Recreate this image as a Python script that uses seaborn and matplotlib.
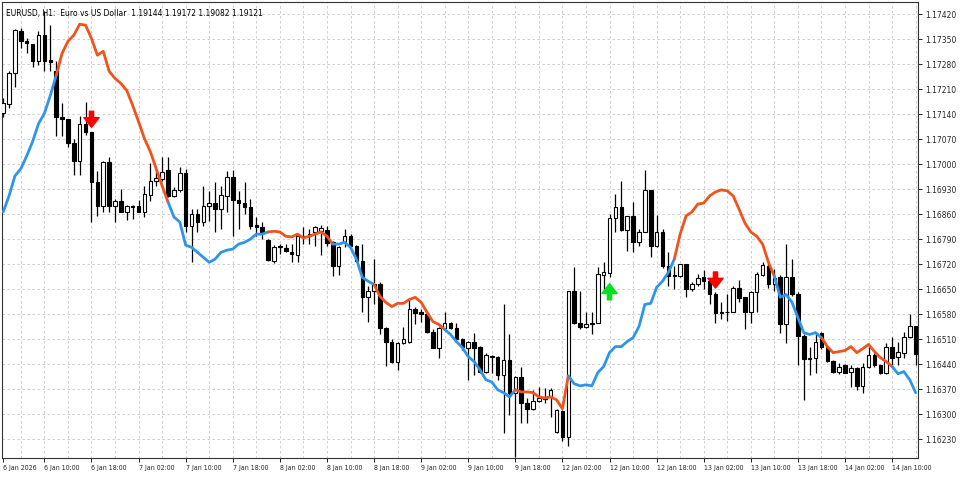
import numpy as np
import pandas as pd
import matplotlib
matplotlib.use("Agg")
import matplotlib.pyplot as plt
import seaborn as sns

# Prices in points (1e-5)
opens = [117142,117167,117254,117372,117344,117336,117288,117361,117291,117260,117133,117127,117060,117009,117111,117091,116950,116883,117006,116883,
116897,116866,116883,116883,116866,116914,116953,116959,116984,116911,116928,116976,116826,116860,116838,116883,116891,116874,116911,116964,
116900,116891,116880,116829,116824,116787,116728,116770,116765,116753,116745,116798,116798,116810,116812,116815,116781,116714,116781,116798,
116770,116728,116627,116644,116663,116542,116503,116447,116500,116503,116593,116585,116579,116531,116486,116542,116556,116542,116509,116486,
116503,116489,116419,116464,116461,116410,116452,116360,116404,116331,116315,116337,116343,116348,116250,116309,116236,116644,116556,116545,
116551,116556,116689,116694,116849,116880,116815,116855,116781,116810,116928,116770,116810,116714,116686,116686,116720,116649,116663,116683,
116672,116635,116582,116587,116585,116652,116627,116585,116641,116689,116714,116663,116683,116551,116683,116635,116520,116458,116458,116528,
116489,116449,116419,116438,116419,116430,116379,116433,116466,116438,116416,116489,116461,116472,116517,116548]
highs = [117184,117260,117378,117381,117352,117336,117372,117428,117389,117288,117170,117127,117071,117136,117175,117091,116981,117009,117021,116902,
116931,116886,116886,116900,116939,117004,116987,117021,117021,116936,116992,116987,116874,116874,116939,116925,116950,116939,116981,116984,
116925,116950,116902,116852,116838,116790,116773,116776,116776,116776,116804,116824,116818,116826,116829,116826,116784,116770,116818,116804,
116773,116776,116658,116734,116669,116545,116509,116503,116545,116621,116599,116593,116585,116537,116545,116585,116559,116556,116514,116506,
116528,116492,116472,116466,116464,116607,116523,116407,116433,116345,116368,116376,116374,116374,116315,116312,116646,116711,116644,116587,
116585,116711,116725,116860,116916,116953,116855,116894,116818,116984,116928,116857,116818,116753,116714,116720,116720,116669,116691,116703,
116672,116641,116613,116635,116658,116675,116627,116644,116697,116725,116720,116705,116689,116776,116734,116641,116523,116489,116531,116531,
116489,116452,116444,116441,116438,116433,116444,116489,116472,116441,116500,116517,116503,116531,116579,116548]
lows = [117133,117156,117217,117324,117310,117271,117277,117260,117260,117080,117080,117049,116970,116970,117082,116838,116855,116866,116866,116838,
116866,116843,116846,116866,116852,116897,116939,116953,116908,116908,116922,116810,116725,116810,116826,116841,116810,116818,116866,116798,
116818,116860,116818,116798,116790,116728,116722,116748,116753,116725,116725,116776,116776,116770,116745,116770,116686,116689,116767,116767,
116725,116585,116559,116607,116523,116435,116444,116424,116497,116500,116551,116559,116528,116486,116458,116537,116537,116503,116480,116396,
116410,116416,116416,116416,116396,116247,116298,116179,116275,116275,116312,116334,116331,116292,116247,116224,116210,116551,116537,116542,
116523,116556,116649,116683,116810,116812,116756,116753,116770,116810,116739,116767,116708,116658,116649,116683,116627,116644,116658,116649,
116607,116556,116565,116562,116585,116615,116537,116556,116585,116686,116652,116644,116528,116500,116630,116438,116340,116410,116416,116483,
116447,116416,116413,116416,116376,116368,116360,116430,116433,116413,116413,116433,116438,116458,116514,116438]
closes = [117170,117254,117375,117344,117338,117288,117361,117288,117285,117133,117127,117060,117009,117111,117091,116950,116883,117006,116883,116897,
116866,116883,116880,116866,116916,116953,116961,116978,116911,116928,116976,116826,116860,116838,116883,116891,116874,116914,116964,116900,
116891,116880,116826,116824,116810,116731,116767,116767,116756,116748,116798,116796,116804,116824,116821,116779,116714,116767,116798,116770,
116728,116627,116644,116663,116542,116503,116447,116500,116509,116593,116582,116579,116531,116486,116542,116556,116542,116509,116489,116503,
116486,116419,116466,116461,116410,116452,116360,116404,116331,116315,116337,116345,116348,116368,116312,116236,116644,116556,116545,116551,
116556,116691,116697,116849,116880,116815,116855,116781,116810,116928,116770,116810,116714,116686,116689,116720,116649,116663,116680,116672,
116635,116582,116587,116585,116652,116624,116585,116641,116691,116717,116663,116680,116551,116683,116635,116520,116455,116455,116503,116489,
116449,116419,116433,116416,116430,116379,116433,116466,116438,116416,116489,116458,116475,116517,116548,116469]
trend_line = [116866,116911,116967,116987,117023,117063,117113,117142,117192,117248,117310,117344,117361,117392,117389,117352,117305,117316,117260,117240,
117226,117206,117164,117119,117071,117035,116987,116939,116894,116852,116838,116773,116767,116753,116739,116725,116734,116753,116759,116762,
116776,116781,116790,116804,116804,116810,116812,116810,116798,116796,116804,116793,116798,116804,116810,116798,116776,116776,116781,116767,
116734,116683,116672,116663,116630,116613,116601,116610,116610,116621,116627,116613,116585,116559,116551,116537,116523,116503,116486,116461,
116447,116424,116396,116390,116368,116360,116348,116368,116362,116362,116360,116348,116345,116348,116340,116315,116407,116385,116379,116382,
116379,116416,116433,116472,116489,116489,116503,116514,116545,116607,116610,116655,116672,116697,116734,116804,116855,116866,116888,116891,
116911,116922,116928,116925,116911,116874,116835,116810,116798,116776,116725,116686,116627,116635,116613,116570,116528,116523,116528,116514,
116489,116472,116475,116478,116489,116472,116483,116495,116475,116458,116447,116433,116413,116419,116396,116360]
# trend runs: (direction, number of bars)   1 = up (blue), -1 = down (orange)
trend_runs = [(1,10),(-1,19),(1,17),(-1,11),(1,7),(-1,12),(1,12),(-1,9),(1,18),(-1,17),(1,8),(-1,12),(1,4)]
signal_bars = [15, 103, 121]
signal_dirs = [-1, 1, -1]
tick_bars = [0,7,15,23,31,39,47,55,63,71,79,87,95,103,111,119,127,135,143,151]
tick_labels = ["6 Jan 2026","6 Jan 10:00","6 Jan 18:00","7 Jan 02:00","7 Jan 10:00","7 Jan 18:00",
               "8 Jan 02:00","8 Jan 10:00","8 Jan 18:00","9 Jan 02:00","9 Jan 10:00","9 Jan 18:00",
               "12 Jan 02:00","12 Jan 10:00","12 Jan 18:00","13 Jan 02:00","13 Jan 10:00","13 Jan 18:00",
               "14 Jan 02:00","14 Jan 10:00"]
price_ticks = [1.16230,1.16300,1.16370,1.16440,1.16510,1.16580,1.16650,1.16720,1.16790,
               1.16860,1.16930,1.17000,1.17070,1.17140,1.17210,1.17280,1.17350,1.17420]
title = "EURUSD, H1:  Euro vs US Dollar  1.19144 1.19172 1.19082 1.19121"

df = pd.DataFrame({"o": np.array(opens)/1e5, "h": np.array(highs)/1e5,
                   "l": np.array(lows)/1e5, "c": np.array(closes)/1e5,
                   "line": np.array(trend_line)/1e5})
df["bar"] = np.arange(len(df))

sns.set_theme(style="white")
plt.rcParams['font.family'] = ['DejaVu Sans']
fig = plt.figure(figsize=(9.6, 4.8), dpi=100)
ax = fig.add_axes([2/960, 22/480, 916/960, 456/480])

# grid
for b in range(3, 160, 4):
    ax.axvline(b, color="#c8c8c8", lw=0.6, ls=(0, (3, 3)), zorder=0)
for p in price_ticks:
    ax.axhline(p, color="#c8c8c8", lw=0.6, ls=(0, (3, 3)), zorder=0)

# candles
ax.vlines(df["bar"], df["l"], df["h"], color="black", lw=0.9, zorder=2)
bull = df["c"] >= df["o"]
bot = np.minimum(df["o"], df["c"])
height = np.maximum(np.abs(df["c"] - df["o"]), 0.000015)
ax.bar(df["bar"][bull], height[bull], bottom=bot[bull], width=0.6,
       color="white", edgecolor="black", linewidth=0.8, zorder=3)
ax.bar(df["bar"][~bull], height[~bull], bottom=bot[~bull], width=0.6,
       color="black", edgecolor="black", linewidth=0.8, zorder=3)

# trend line coloured by state
start = 0
for d, n in trend_runs:
    s = max(start - 1, 0)
    seg = df.iloc[s:start + n]
    sns.lineplot(x=seg["bar"], y=seg["line"], ax=ax, color="#2E95EC" if d == 1 else "#F2521B",
                 lw=2.0, zorder=4, legend=False)
    start += n

# signal arrows
for b, d in zip(signal_bars, signal_dirs):
    if d < 0:
        tip = df["h"][b] + 0.00012
        tail = tip + 0.00045
        col = "#FF0000"
    else:
        tip = df["l"][b] - 0.00018
        tail = tip - 0.00045
        col = "#00E020"
    ax.annotate("", xy=(b, tip), xytext=(b, tail),
                arrowprops=dict(facecolor=col, edgecolor=col, width=3, headwidth=11, headlength=7),
                zorder=5)

ax.set_xlim(-0.2, 155.4)
ax.set_ylim(1.16177, 1.17454)
ax.set_xlabel(""); ax.set_ylabel("")
ax.yaxis.tick_right()
ax.set_yticks(price_ticks)
ax.set_yticklabels([f"{p:.5f}" for p in price_ticks], fontsize=5.5)
ax.set_xticks(tick_bars)
ax.set_xticklabels(tick_labels, fontsize=5.0, ha="left", fontstretch="condensed")
ax.tick_params(axis="both", length=3, width=0.6, color="black", pad=2, direction="out")
ax.tick_params(axis="y", right=True, left=False)
ax.tick_params(axis="x", bottom=True)
for sp in ax.spines.values():
    sp.set_color("#333333"); sp.set_linewidth(0.8)
ax.text(0.004, 0.985, title, transform=ax.transAxes, fontsize=5.5, va="top", ha="left", color="black")

fig.savefig("out.png", dpi=100, facecolor="white")
